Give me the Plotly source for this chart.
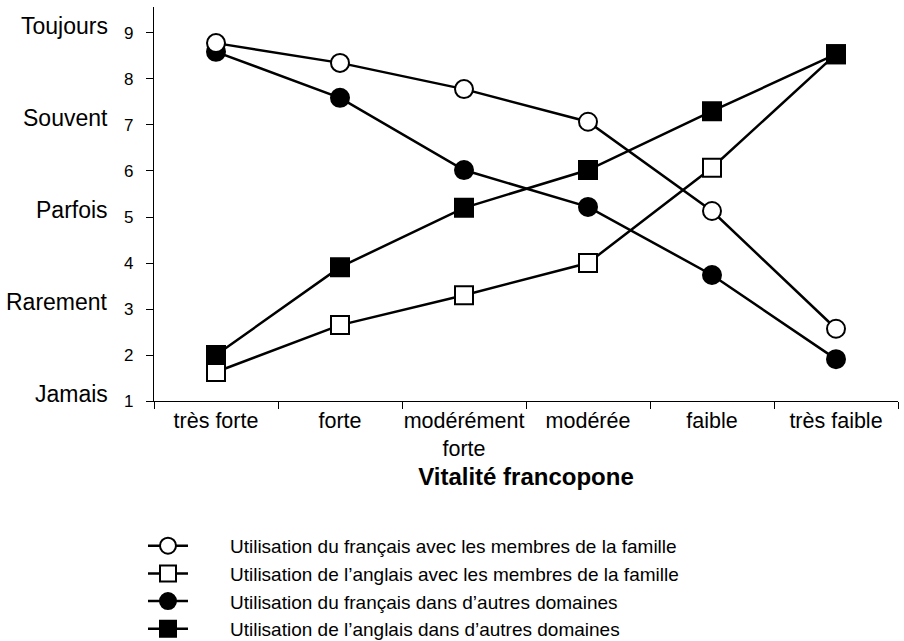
import plotly.graph_objects as go

categories = ["très forte", "forte", "modérément<br>forte", "modérée", "faible", "très faible"]

fr_famille = [8.78, 8.35, 7.78, 7.07, 5.13, 2.57]
en_famille = [1.63, 2.65, 3.30, 4.00, 6.07, 8.54]
fr_autres = [8.59, 7.59, 6.02, 5.22, 3.74, 1.91]
en_autres = [2.00, 3.91, 5.20, 6.02, 7.30, 8.54]

names = [
    "Utilisation du français avec les membres de la famille",
    "Utilisation de l\u2019anglais avec les membres de la famille",
    "Utilisation du français dans d\u2019autres domaines",
    "Utilisation de l\u2019anglais dans d\u2019autres domaines",
]

y_ticks = [1, 2, 3, 4, 5, 6, 7, 8, 9]
y_words = {9: "Toujours", 7: "Souvent", 5: "Parfois", 3: "Rarement", 1: "Jamais"}

FONT = "Liberation Sans, Arial, Helvetica, sans-serif"
PAD = "\u00a0" * 7

def trace(y, name, symbol, fill, rank):
    return go.Scatter(
        x=categories, y=y, name=PAD + name, mode="lines+markers",
        line=dict(color="black", width=2.5),
        marker=dict(symbol=symbol, size=18, color=fill,
                    line=dict(color="black", width=2)),
        legendrank=rank, cliponaxis=False,
    )

fig = go.Figure()
fig.add_trace(trace(fr_autres, names[2], "circle", "black", 3))
fig.add_trace(trace(fr_famille, names[0], "circle", "white", 1))
fig.add_trace(trace(en_famille, names[1], "square", "white", 2))
fig.add_trace(trace(en_autres, names[3], "square", "black", 4))

for v, w in y_words.items():
    fig.add_annotation(x=-44 / 744, xref="paper", y=v, yref="y", text=w,
                       showarrow=False, xanchor="right", yanchor="middle",
                       yshift=7, font=dict(family=FONT, size=23, color="black"))

fig.update_layout(
    width=904, height=641,
    margin=dict(l=154, r=6, t=7, b=240, autoexpand=False),
    paper_bgcolor="white", plot_bgcolor="white",
    font=dict(family=FONT, color="black"),
    showlegend=True,
    legend=dict(x=-0.0148, xanchor="left", y=-0.3194, yanchor="top",
                font=dict(family=FONT, size=19, color="black"),
                bgcolor="rgba(0,0,0,0)", itemwidth=40),
    xaxis=dict(
        type="category", range=[-0.5, 5.5], tickangle=0,
        showline=True, linecolor="black", linewidth=1.2,
        ticks="outside", tickson="boundaries", ticklen=7, tickcolor="black", tickwidth=1.2,
        showgrid=False, zeroline=False,
        tickfont=dict(family=FONT, size=21.5, color="black"),
        title=dict(text="<b>Vitalité francopone</b>", standoff=8,
                   font=dict(family=FONT, size=24, color="black")),
    ),
    yaxis=dict(
        range=[1, 9.565], tickvals=y_ticks,
        showline=True, linecolor="black", linewidth=1.2,
        ticks="outside", ticklen=7, tickcolor="black", tickwidth=1.2,
        ticklabelstandoff=9,
        showgrid=False, zeroline=False,
        tickfont=dict(family=FONT, size=17, color="black"),
    ),
)

fig.write_html("out.html", config={"displayModeBar": False},
               post_script="document.body.style.margin='0';")
